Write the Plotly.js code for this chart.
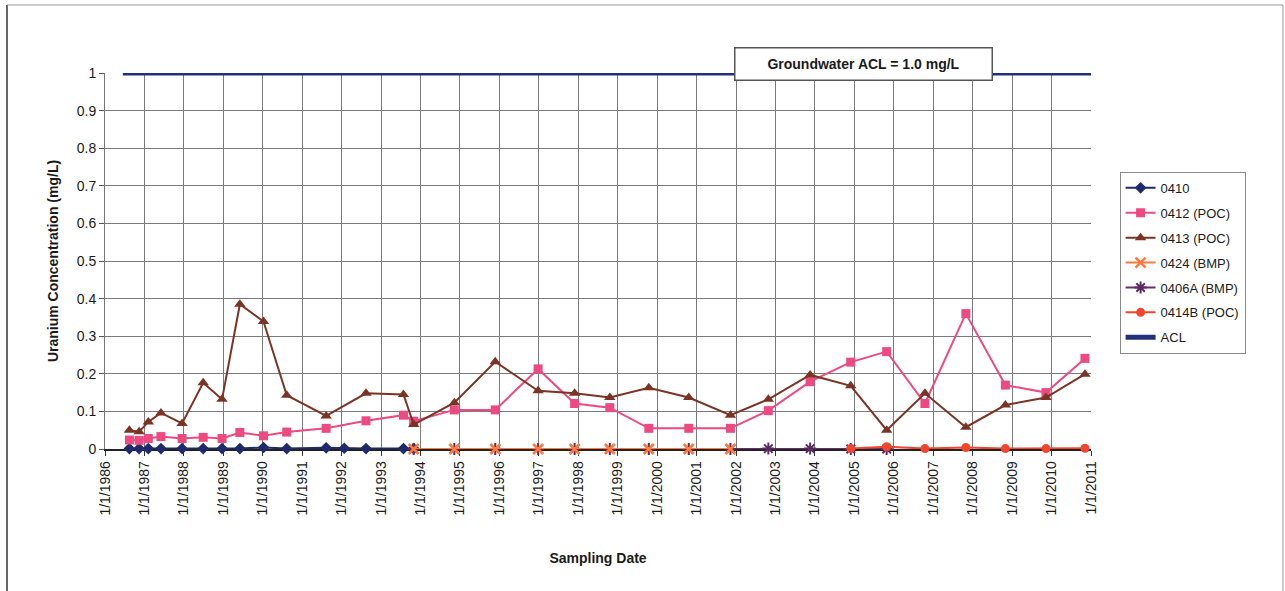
<!DOCTYPE html>
<html>
<head>
<meta charset="utf-8">
<script src="https://cdn.plot.ly/plotly-3.0.1.min.js"></script>
<style>
  html, body { margin: 0; padding: 0; background: #ffffff; }
  #chart { width: 1285px; height: 591px; }
</style>
</head>
<body>
<div id="chart"></div>
<script>
// Sampling dates and uranium results (mg/L) per well
const dates0410 = ['1986-08-15','1986-11-13','1987-02-06','1987-06-03','1987-12-16','1988-06-28','1988-12-20',
  '1989-06-03','1990-01-08','1990-08-11','1991-08-11','1992-01-26','1992-08-14','1993-07-27','1993-10-30'];
const u0410 = [0.001,0.001,0.001,0.001,0.001,0.001,0.001,0.001,0.004,0.001,0.003,0.002,0.001,0.001,0.001];

const dates0412 = ['1986-08-15','1986-11-13','1987-02-06','1987-06-03','1987-12-16','1988-06-28','1988-12-20',
  '1989-06-03','1990-01-08','1990-08-11','1991-08-11','1992-08-14','1993-07-27','1993-10-30',
  '1994-11-10','1995-11-24','1996-12-25','1997-11-28','1998-10-20','1999-10-16','2000-10-20',
  '2001-11-10','2002-10-27','2003-11-18','2004-11-28','2005-10-27','2006-10-16','2007-10-30',
  '2008-10-30','2009-11-10','2010-11-06'];
const u0412 = [0.024,0.023,0.028,0.033,0.028,0.031,0.028,0.044,0.035,0.045,0.055,0.075,0.090,0.074,
  0.104,0.104,0.213,0.121,0.110,0.055,0.055,0.055,0.102,0.179,0.231,0.259,0.121,0.360,0.170,0.150,0.241];

const dates0413 = ['1986-08-15','1986-11-13','1987-02-06','1987-06-03','1987-12-16','1988-06-28','1988-12-20',
  '1989-06-03','1990-01-08','1990-08-11','1991-08-11','1992-08-14','1993-07-27','1993-10-30',
  '1994-11-10','1995-11-24','1996-12-25','1997-11-28','1998-10-20','1999-10-16','2000-10-20',
  '2001-11-10','2002-10-27','2003-11-18','2004-11-28','2005-10-27','2006-10-16','2007-10-30',
  '2008-10-30','2009-11-10','2010-11-06'];
const u0413 = [0.050,0.046,0.072,0.096,0.068,0.176,0.132,0.385,0.339,0.143,0.088,0.148,0.145,0.065,
  0.123,0.232,0.155,0.148,0.137,0.163,0.137,0.090,0.132,0.197,0.168,0.050,0.148,0.058,0.117,0.137,0.199];

const dates0424 = ['1993-10-30','1994-11-10','1995-11-24','1996-12-25','1997-11-28','1998-10-20',
  '1999-10-16','2000-10-20','2001-11-10'];
const u0424 = [0,0,0,0,0,0,0,0,0];

const dates0406A = ['1993-10-30','1994-11-10','1995-11-24','1996-12-25','1997-11-28','1998-10-20',
  '1999-10-16','2000-10-20','2001-11-10','2002-10-27','2003-11-18','2004-11-28','2005-10-27'];
const u0406A = [0,0,0,0,0,0,0,0,0,0.001,0.001,0,0];

const dates0414B = ['2004-11-28','2005-10-27','2006-10-16','2007-10-30','2008-10-30','2009-11-10','2010-11-06'];
const u0414B = [0.001,0.006,0.001,0.004,0.001,0.001,0.002];

const datesACL = ['1986-06-15','2011-01-01'];
const uACL = [1.0,1.0];

const yearTicks = ['1986','1987','1988','1989','1990','1991','1992','1993','1994','1995','1996','1997','1998',
  '1999','2000','2001','2002','2003','2004','2005','2006','2007','2008','2009','2010','2011'];

const FONT = 'Liberation Sans, Arial, sans-serif';

function series(name, x, y, color, symbol, size, rank, extra) {
  return Object.assign({
    type: 'scatter', mode: 'lines+markers', name: name, x: x, y: y,
    line: { color: color, width: 2 },
    marker: { color: color, symbol: symbol, size: size, line: { color: color, width: 0 } },
    legendrank: rank, legendgroup: name, cliponaxis: false, hoverinfo: 'x+y+name'
  }, extra || {});
}

const traces = [
  series('0410', dates0410, u0410, '#1e2a6c', 'diamond', 9, 1),
  series('0412 (POC)', dates0412, u0412, '#ec4a80', 'square', 9, 2),
  series('0413 (POC)', dates0413, u0413, '#7b3324', 'triangle-up', 10, 3),
  series('0406A (BMP)', dates0406A, u0406A, '#6b2d6b', 'asterisk-open', 10, 5,
    { marker: { color: '#5a2a60', symbol: 'asterisk-open', size: 10, line: { color: '#5a2a60', width: 2 } } }),
  series('0424 (BMP)', dates0424, u0424, '#ff7a3c', 'x-thin-open', 10, 4,
    { marker: { color: '#ff7a3c', symbol: 'x-thin-open', size: 10, line: { color: '#ff7a3c', width: 2.5 } } }),
  series('0414B (POC)', dates0414B, u0414B, '#f2452c', 'circle', 9, 6),
  { type: 'scatter', mode: 'lines', name: 'ACL', x: datesACL, y: uACL, cliponaxis: false,
    line: { color: '#22307c', width: 5 }, legendrank: 7, legendgroup: 'ACL', hoverinfo: 'x+y+name' }
];

const yearVals = yearTicks.map(y => y + '-01-01');
const yearText = yearTicks.map(y => '1/1/' + y);

const layout = {
  width: 1285, height: 591,
  paper_bgcolor: '#ffffff', plot_bgcolor: '#ffffff',
  margin: { l: 105, r: 194, t: 73, b: 142 },
  font: { family: FONT, size: 14, color: '#1a1a1a' },
  showlegend: true,
  legend: {
    x: 1.029, y: 0.737, xanchor: 'left', yanchor: 'top',
    bgcolor: '#ffffff', bordercolor: '#8a8a8a', borderwidth: 1,
    font: { family: FONT, size: 13, color: '#1a1a1a' },
    traceorder: 'grouped', tracegroupgap: 5, itemwidth: 30
  },
  xaxis: {
    type: 'date', range: ['1986-01-01', '2011-01-01'],
    tickmode: 'array', tickvals: yearVals, ticktext: yearText,
    tickangle: -90, tickfont: { family: FONT, size: 14, color: '#1a1a1a' },
    ticks: 'outside', ticklen: 5, tickcolor: '#333',
    showgrid: true, gridcolor: '#7a7a7a', gridwidth: 1,
    showline: true, linecolor: '#222', linewidth: 1.5,
    zeroline: false, layer: 'below traces',
    title: { text: '<b>Sampling Date</b>', font: { family: FONT, size: 14, color: '#1a1a1a' }, standoff: 38 }
  },
  yaxis: {
    range: [0, 1], dtick: 0.1, tick0: 0,
    tickfont: { family: FONT, size: 14, color: '#1a1a1a' },
    ticks: 'outside', ticklen: 5, tickcolor: '#555',
    showgrid: true, gridcolor: '#7a7a7a', gridwidth: 1,
    showline: true, linecolor: '#777', linewidth: 1,
    zeroline: false, layer: 'below traces',
    title: { text: '<b>Uranium Concentration (mg/L)</b>', font: { family: FONT, size: 14, color: '#1a1a1a' }, standoff: 14 }
  },
  annotations: [{
    xref: 'paper', yref: 'paper', x: 0.769, y: 1.025, xanchor: 'center', yanchor: 'middle',
    text: '<b>Groundwater ACL = 1.0 mg/L</b>', showarrow: false,
    font: { family: FONT, size: 14, color: '#1a1a1a' },
    bgcolor: '#ffffff', bordercolor: '#555555', borderwidth: 1.5, borderpad: 0,
    width: 256, height: 31
  }],
  shapes: [
    // outer chart frame
    { type: 'line', xref: 'paper', yref: 'paper', x0: -0.0994, x1: -0.0994, y0: 1.181, y1: -0.40,
      line: { color: '#666', width: 2 } },
    { type: 'line', xref: 'paper', yref: 'paper', x0: -0.0994, x1: 1.1947, y0: 1.181, y1: 1.181,
      line: { color: '#999', width: 1 } },
    { type: 'line', xref: 'paper', yref: 'paper', x0: 1.1947, x1: 1.1947, y0: 1.181, y1: -0.40,
      line: { color: '#999', width: 1 } }
  ]
};

Plotly.newPlot('chart', traces, layout, { displayModeBar: false, staticPlot: true });
</script>
</body>
</html>
